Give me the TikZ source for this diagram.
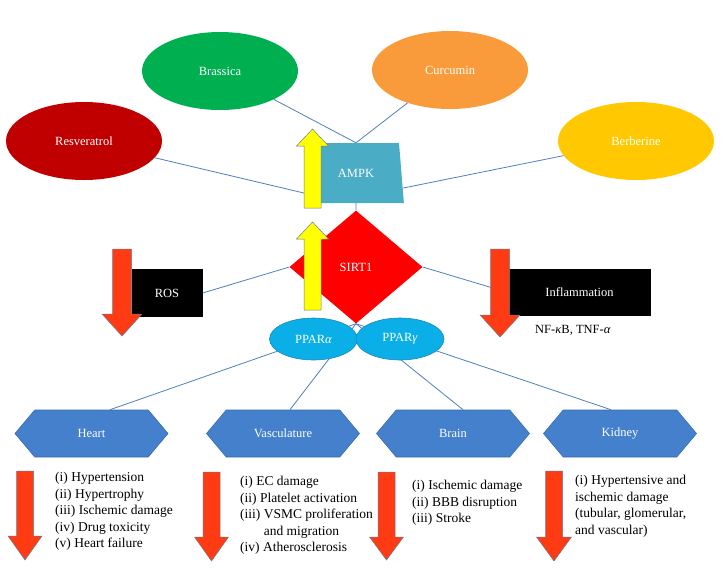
\documentclass[tikz,border=0pt]{standalone}
\usepackage{fontspec}
\setmainfont{Liberation Serif}
\usetikzlibrary{shapes.geometric,shapes.symbols,calc}
\definecolor{cgreen}{HTML}{00B050}
\definecolor{corange}{HTML}{F99B3A}
\definecolor{cdarkred}{HTML}{C00000}
\definecolor{cgold}{HTML}{FFC800}
\definecolor{cteal}{HTML}{4BACC6}
\definecolor{cred}{HTML}{FF0000}
\definecolor{cyel}{HTML}{FFFF00}
\definecolor{carrowred}{HTML}{FF3B14}
\definecolor{cppar}{HTML}{0AAFE8}
\definecolor{cpparedge}{HTML}{1E88B8}
\definecolor{corgan}{HTML}{4580CC}
\definecolor{corganedge}{HTML}{3A6DAE}
\definecolor{cconn}{HTML}{4F7FBF}
\definecolor{carrowedge}{HTML}{6D7A8C}
\newcommand{\blockarrow}[7]{%
  \filldraw[fill=#1, draw=carrowedge, line width=0.5pt]
    (#2-#6,#3) -- (#2+#6,#3) -- (#2+#6,#4) -- (#2+#7,#4) -- (#2,#5)
    -- (#2-#7,#4) -- (#2-#6,#4) -- cycle;}
\tikzset{
  conn/.style={draw=cconn, line width=0.8pt},
  lbl/.style={text=white, font=\fontsize{12.5}{15}\selectfont},
  food/.style={ellipse, lbl, inner sep=0pt, minimum width=156pt, minimum height=78pt},
  organ/.style={signal, signal to=east and west, signal pointer angle=100,
    fill=corgan, draw=corganedge, line width=0.6pt, lbl, inner sep=0pt,
    minimum width=153pt, minimum height=47pt},
  ppar/.style={ellipse, fill=cppar, draw=cpparedge, line width=0.6pt, lbl,
    inner sep=0pt, minimum width=88pt, minimum height=42pt},
  blackbox/.style={rectangle, fill=black, lbl, inner sep=0pt},
  listtxt/.style={anchor=north west, align=left, inner sep=0pt,
    font=\fontsize{13.5}{16.6}\selectfont}
}
\begin{document}
\begin{tikzpicture}[x=1pt,y=-1pt]
\useasboundingbox (0,0) rectangle (726,568);
% nodes
\node[food, fill=cgreen] (brassica) at (220,71) {Brassica};
\node[food, fill=corange] (curcumin) at (450,70) {Curcumin};
\node[food, fill=cdarkred] (resv) at (84,141) {Resveratrol};
\node[food, fill=cgold] (berb) at (636,141) {Berberine};
\node[trapezium, trapezium angle=76, trapezium stretches=true, fill=cteal,
  minimum width=96pt, minimum height=60pt, inner sep=0pt, lbl] (ampk) at (356,173) {AMPK};
\node[diamond, fill=cred, minimum width=133pt, minimum height=113pt,
  inner sep=0pt, lbl] (sirt) at (356,267) {SIRT1};
\node[blackbox, minimum width=71pt, minimum height=48pt] (ros) at (167,293) {ROS};
\node[blackbox, minimum width=143pt, minimum height=47pt] (infl) at (579.5,292.5) {Inflammation};
\node[anchor=west, inner sep=0pt, font=\fontsize{12.5}{15}\selectfont] (nf) at (535,330)
  {NF-\textit{κ}B, TNF-\textit{α}};
\node[organ] (heart) at (91.5,433.5) {Heart};
\node[organ] (vasc) at (283,433.5) {Vasculature};
\node[organ] (brain) at (453,433.5) {Brain};
\node[organ] (kidney) at (620,433.5) {Kidney};
% connectors
\draw[conn] (brassica) -- (ampk.north);
\draw[conn] (curcumin) -- (ampk.north);
\draw[conn] (resv) -- ($(ampk.bottom left corner)!0.15!(ampk.top left corner)$);
\draw[conn] (berb) -- ($(ampk.bottom right corner)!0.25!(ampk.top right corner)$);
\draw[conn] (ampk.south) -- (sirt.north);
\draw[conn] (ros.east) -- (sirt.west);
\draw[conn] (sirt.east) -- (infl.west);
\draw[conn] (sirt.south) -- ($(heart.north)+(18.5,0)$);
\draw[conn] (sirt.south) -- ($(vasc.north)+(7,0)$);
\draw[conn] (sirt.south) -- ($(brain.north)+(10,0)$);
\draw[conn] (sirt.south) -- ($(kidney.north)+(-9,0)$);
% PPAR ellipses on top of lines
\node[ppar] (ppara) at (313.5,339) {PPAR\textit{α}};
\node[ppar] (pparg) at (400,339) {PPAR\textit{γ}};
% arrows
\blockarrow{cyel}{312.5}{208}{146}{129}{8.5}{16}
\blockarrow{cyel}{312.5}{310}{239}{222}{8.5}{16}
\blockarrow{carrowred}{122}{249}{314}{336}{9.5}{20}
\blockarrow{carrowred}{500}{249}{315}{337}{9.5}{20}
\blockarrow{carrowred}{25}{471}{536}{560}{8.5}{17}
\blockarrow{carrowred}{211.5}{472}{537}{561}{8.5}{17}
\blockarrow{carrowred}{386.5}{472}{537}{560}{8.5}{17}
\blockarrow{carrowred}{554}{471}{537}{561}{8.5}{17.5}
% lists
\node[listtxt] (lheart) at (55,472) {(i) Hypertension\\(ii) Hypertrophy\\(iii) Ischemic damage\\(iv) Drug toxicity\\(v) Heart failure};
\node[listtxt] (lvasc) at (240,476) {(i) EC damage\\(ii) Platelet activation\\(iii) VSMC proliferation\\\phantom{(iii) }and migration\\(iv) Atherosclerosis};
\node[listtxt] (lbrain) at (412,480) {(i) Ischemic damage\\(ii) BBB disruption\\(iii) Stroke};
\node[listtxt] (lkidney) at (575,475) {(i) Hypertensive and\\ischemic damage\\(tubular, glomerular,\\and vascular)};
\end{tikzpicture}
\end{document}
